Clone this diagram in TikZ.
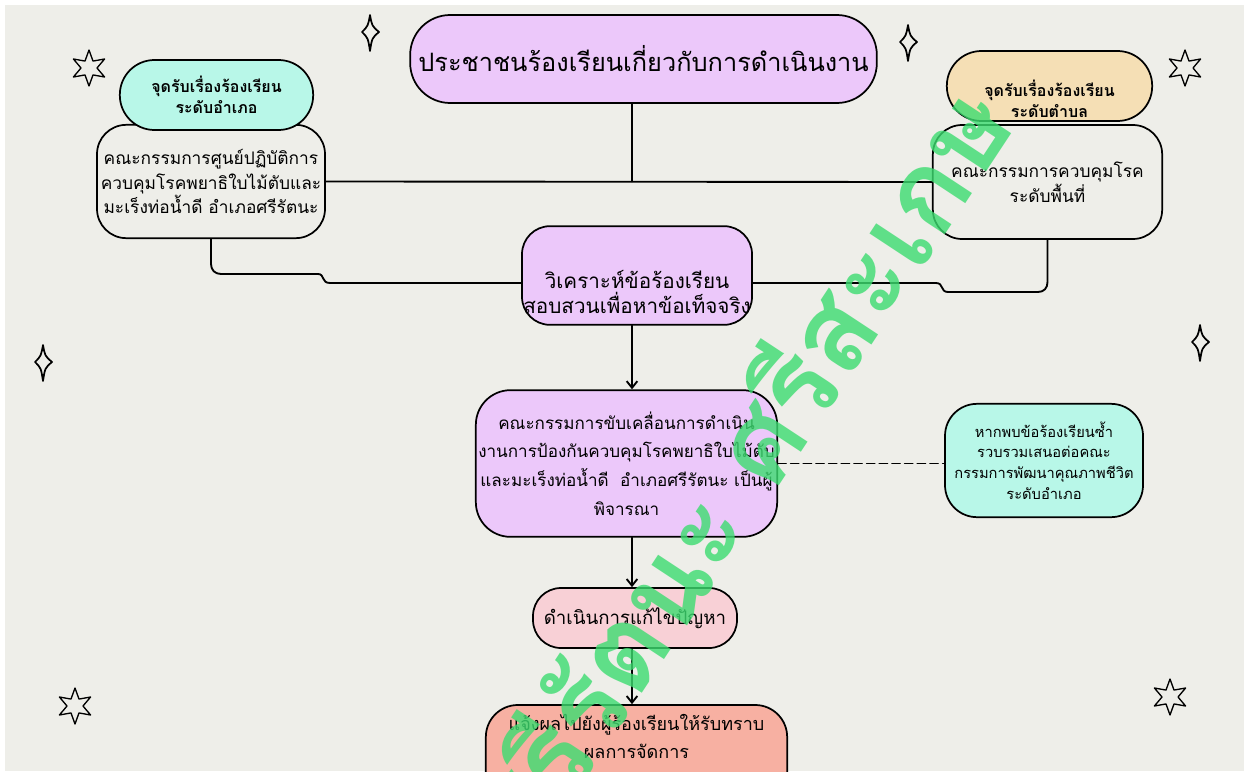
\documentclass[tikz,border=0pt]{standalone}
\usepackage{fontspec}
\setmainfont{Loma}[Script=Thai]
\usetikzlibrary{arrows.meta}
\definecolor{bggray}{RGB}{238,238,233}
\definecolor{lilac}{RGB}{236,200,250}
\definecolor{mint}{RGB}{184,247,232}
\definecolor{peach}{RGB}{245,223,181}
\definecolor{rosepink}{RGB}{248,208,214}
\definecolor{salmon}{RGB}{247,176,162}
\definecolor{markgreen}{RGB}{60,220,112}

\begin{document}
\begin{tikzpicture}[x=0.75pt,y=-0.75pt,line cap=round,line join=round,>={Straight Barb[length=5pt,width=8pt]},
	box/.style={draw=black,line width=1.3pt,align=center,inner sep=0pt},
	link/.style={line width=1.4pt},
	bodytext/.style={font=\fontsize{13}{18.5}\selectfont},
	headtext/.style={font=\bfseries\fontsize{12}{16}\selectfont},
	sixstar/.pic={\draw[line width=1pt] (90:18) \foreach \k in {1,...,11}{ -- ({90+30*\k}:{ifthenelse(mod(\k,2)==1,8,18)})} -- cycle;},
	sparkle/.pic={\draw[line width=1.3pt] (0,-17) .. controls (2,-6) .. (9,0) .. controls (2,6) .. (0,19) .. controls (-2,6) .. (-8,0) .. controls (-2,-6) .. (0,-17) -- cycle;}]
	\useasboundingbox (0,0) rectangle (1249,771);
	\fill[white] (0,0) rectangle (1249,771);
	\fill[bggray] (5,5) rectangle (1244,771);
	\clip (5,5) rectangle (1244,771);
	% decorations
	\foreach \p in {(89,68),(1185,68),(75,706),(1170,697)} \pic at \p {sixstar};
	\foreach \p in {(370,32),(908,42),(43,362),(1200,342)} \pic at \p {sparkle};
	% boxes
	\node[box,fill=lilac,rounded corners=30pt,minimum width=350pt,minimum height=66pt,font=\fontsize{19}{24}\selectfont] (title) at (643.5,59) {ประชาชนร้องเรียนเกี่ยวกับการดำเนินงาน};
	\node[box,fill=bggray,rounded corners=22pt,minimum width=171pt,minimum height=85pt,bodytext] (leftbody) at (211,181.5) {คณะกรรมการศูนย์ปฏิบัติการ\\ควบคุมโรคพยาธิใบไม้ตับและ\\มะเร็งท่อน้ำดี อำเภอศรีรัตนะ};
	\node[box,fill=mint,rounded corners=26pt,minimum width=145pt,minimum height=52.5pt,headtext] (lefthead) at (216.5,95) {จุดรับเรื่องร้องเรียน\\ระดับอำเภอ};
	\node[box,fill=bggray,rounded corners=22pt,minimum width=172pt,minimum height=85.5pt,bodytext] (rightbody) at (1047.5,182) {คณะกรรมการควบคุมโรค\\ระดับพื้นที่};
	\node[box,fill=peach,rounded corners=26pt,minimum width=154pt,minimum height=52.5pt] (righthead) at (1049.5,86) {};
	\node[headtext,align=center] (rightheadtext) at (1049.5,99) {จุดรับเรื่องร้องเรียน\\ระดับตำบล};
	\node[box,fill=lilac,rounded corners=21pt,minimum width=172.5pt,minimum height=74pt] (analyze) at (637,275.5) {};
	\node[font=\fontsize{15.5}{19}\selectfont,align=center] (analyzetext) at (637,292) {วิเคราะห์ข้อร้องเรียน\\สอบสวนเพื่อหาข้อเท็จจริง};
	\node[box,fill=lilac,rounded corners=26pt,minimum width=226pt,minimum height=110pt,font=\fontsize{12.8}{21.5}\selectfont] (commission) at (626.5,463.5) {คณะกรรมการขับเคลื่อนการดำเนิน\\งานการป้องกันควบคุมโรคพยาธิใบไม้ตับ\\และมะเร็งท่อน้ำดี\ \ อำเภอศรีรัตนะ เป็นผู้\\พิจารณา};
	\node[box,fill=mint,rounded corners=24pt,minimum width=148.5pt,minimum height=85pt,font=\fontsize{11}{15.5}\selectfont] (repeat) at (1044,460.5) {หากพบข้อร้องเรียนซ้ำ\\รวบรวมเสนอต่อคณะ\\กรรมการพัฒนาคุณภาพชีวิต\\ระดับอำเภอ};
	\node[box,fill=rosepink,rounded corners=21pt,minimum width=153pt,minimum height=45pt,font=\fontsize{14}{19}\selectfont] (solve) at (635,618) {ดำเนินการแก้ไขปัญหา};
	\node[box,fill=salmon,rounded corners=24pt,minimum width=226pt,minimum height=75pt] (reply) at (636.5,755) {};
	\node[font=\fontsize{13.5}{21}\selectfont,align=center] (replytext) at (636.5,736) {แจ้งผลไปยังผู้ร้องเรียนให้รับทราบ\\ผลการจัดการ};
	% connectors
	\coordinate (spine) at (632,0);
	\draw[link] (title.south -| spine) -- (spine |- leftbody.east);
	\draw[link] (leftbody.east) -- (rightbody.west);
	\draw[link] (leftbody.south) -- (211,264) .. controls (211,270) and (215,274) .. (221,274) -- (318,274) .. controls (325,274) and (321,283) .. (330,283) -- (analyze.west |- 0,283);
	\draw[link] (analyze.east |- 0,283) -- (936,283) .. controls (944,283) and (940,292) .. (948,292) -- (1038,292) .. controls (1044,292) and (1047.5,288) .. (1047.5,282) -- (rightbody.south);
	\draw[link,->] (analyze.south -| spine) -- (commission.north -| spine);
	\draw[link,dash pattern=on 6pt off 3.5pt] (commission.east) -- (repeat.west |- commission.east);
	\draw[link,->] (commission.south -| spine) -- (solve.north -| spine);
	\draw[link,->] (solve.south -| spine) -- (reply.north -| spine);
	% watermark
	\node[text=markgreen,opacity=0.8,rotate=56.6,font=\bfseries\fontsize{85}{85}\selectfont] (watermark) at (734,468) {ศรีรัตนะ ศรีสะเกษ};
\end{tikzpicture}
\end{document}
